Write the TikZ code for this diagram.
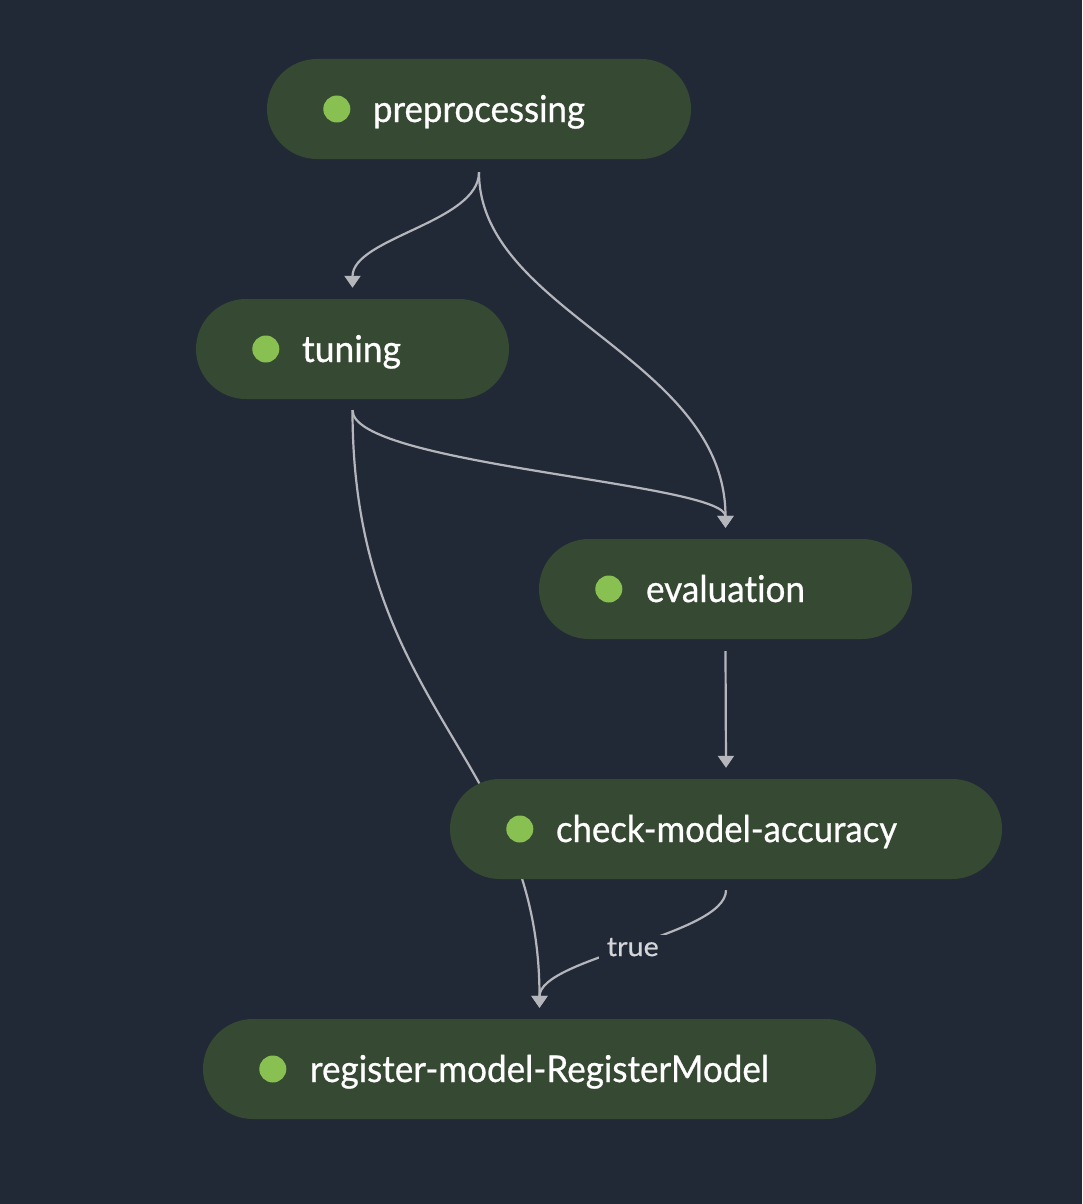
\documentclass[tikz,border=0pt]{standalone}
\usepackage{fontspec}
\usepackage{graphicx}
\usetikzlibrary{arrows.meta,calc}
\newfontfamily\uifont[FakeBold=0.7,Ligatures=NoCommon]{Lato}
\newfontfamily\uilightfont[FakeBold=0.4,Ligatures=NoCommon]{Lato}
\definecolor{bgcol}{HTML}{222936}
\definecolor{nodefill}{HTML}{364933}
\definecolor{dotgreen}{HTML}{88C152}
\definecolor{edgecol}{HTML}{B4B6BC}
\definecolor{labelcol}{HTML}{D4D6DA}
\pgfdeclarelayer{back}
\pgfdeclarelayer{edges}
\pgfsetlayers{back,edges,main}
\newcommand\fitw[2]{\resizebox{#1}{\height}{#2}}
\tikzset{
  stepbox/.style={rectangle, rounded corners=50pt, fill=nodefill, minimum height=100pt, inner sep=0pt},
  statusdot/.style={circle, fill=dotgreen, minimum size=27pt, inner sep=0pt},
  steplabel/.style={anchor=base west, text=white, inner sep=0pt, font=\uifont\fontsize{37}{44}\selectfont},
  conn/.style={draw=edgecol, line width=2.2pt, -{Triangle[length=12pt,width=16pt]}},
  edgelabel/.style={fill=bgcol, text=labelcol, inner xsep=8pt, inner ysep=3pt, font=\uilightfont\fontsize{27}{32}\selectfont},
}
\begin{document}
\begin{tikzpicture}[x=1pt,y=-1pt]
\begin{pgfonlayer}{back}
  \fill[bgcol] (0,0) rectangle (1082,1204);
\end{pgfonlayer}
\useasboundingbox (0,0) rectangle (1082,1204);

% step nodes
\node[stepbox, minimum width=424pt] (pre) at (479,109) {};
\node[stepbox, minimum width=313pt] (tun) at (352.5,349) {};
\node[stepbox, minimum width=373pt] (eva) at (725.5,589) {};
\node[stepbox, minimum width=552pt] (chk) at (726,829) {};
\node[stepbox, minimum width=673pt] (reg) at (539.5,1069) {};

% status dots
\node[statusdot] (pre-dot) at ($(pre.west)+(70,0)$) {};
\node[statusdot] (tun-dot) at ($(tun.west)+(70,0)$) {};
\node[statusdot] (eva-dot) at ($(eva.west)+(70,0)$) {};
\node[statusdot] (chk-dot) at ($(chk.west)+(70,0)$) {};
\node[statusdot] (reg-dot) at ($(reg.west)+(70,0)$) {};

% labels
\node[steplabel] (pre-txt) at ($(pre.west)+(106,13)$) {\fitw{212pt}{preprocessing}};
\node[steplabel] (tun-txt) at ($(tun.west)+(106,13)$) {\fitw{99pt}{tuning}};
\node[steplabel] (eva-txt) at ($(eva.west)+(107,13)$) {\fitw{159pt}{evaluation}};
\node[steplabel] (chk-txt) at ($(chk.west)+(106,13)$) {\fitw{341pt}{check-model-accuracy}};
\node[steplabel] (reg-txt) at ($(reg.west)+(107,13)$) {\fitw{459pt}{register-model-RegisterModel}};

% connectors
\begin{pgfonlayer}{edges}
  \coordinate (pre-out) at ($(pre.south)+(0,13)$);
  \coordinate (tun-in) at ($(tun.north)+(0,-11)$);
  \coordinate (tun-out) at ($(tun.south)+(0,11)$);
  \coordinate (eva-in) at ($(eva.north)+(0,-11)$);
  \coordinate (eva-out) at ($(eva.south)+(0,12)$);
  \coordinate (chk-in) at ($(chk.north)+(0,-11)$);
  \coordinate (chk-out) at ($(chk.south)+(0,11)$);
  \coordinate (reg-in) at ($(reg.north)+(0,-11)$);
  \draw[conn] (pre-out) .. controls +(0,50) and +(0,-50) .. (tun-in);
  \draw[conn] (pre-out) .. controls +(0,140) and +(0,-170) .. (eva-in);
  \draw[conn] (tun-out) .. controls +(0,55) and +(0,-45) .. (eva-in);
  \draw[conn] (tun-out) .. controls +(0,300) and +(0,-250) .. (reg-in);
  \draw[conn] (eva-out) -- (chk-in);
  \draw[conn] (chk-out) .. controls +(0,45) and +(0,-50) .. node[edgelabel] (true-lbl) {\fitw{52pt}{true}} (reg-in);
\end{pgfonlayer}
\end{tikzpicture}
\end{document}
